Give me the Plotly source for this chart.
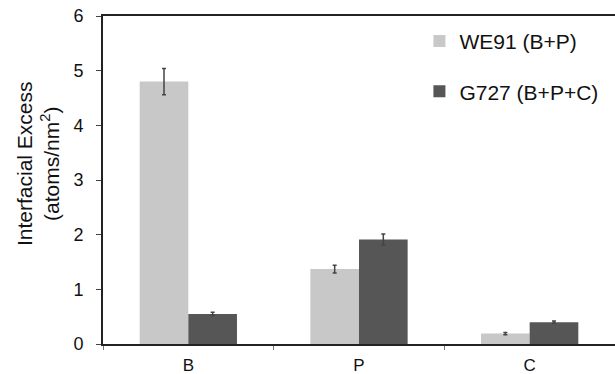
import plotly.graph_objects as go

categories = ["B", "P", "C"]
we91_values = [4.80, 1.37, 0.19]
we91_errors = [0.24, 0.07, 0.02]
g727_values = [0.55, 1.91, 0.40]
g727_errors = [0.03, 0.10, 0.02]
series_names = ["WE91 (B+P)", "G727 (B+P+C)"]

fig = go.Figure()
fig.add_trace(go.Bar(
    x=categories, y=we91_values, name=series_names[0], legendgroup="a",
    marker=dict(color="#c8c8c8", line=dict(width=0)),
    error_y=dict(type="data", array=we91_errors, color="#444444", thickness=1.5, width=2),
))
fig.add_trace(go.Bar(
    x=categories, y=g727_values, name=series_names[1], legendgroup="b",
    marker=dict(color="#565656", line=dict(width=0)),
    error_y=dict(type="data", array=g727_errors, color="#444444", thickness=1.5, width=2),
))

fig.update_layout(
    width=615, height=374,
    margin=dict(l=103, r=0, t=16, b=30),
    paper_bgcolor="white", plot_bgcolor="white",
    barmode="group", bargap=0.43, bargroupgap=0,
    font=dict(family="Liberation Sans, Arial, sans-serif", color="#111111"),
    legend=dict(x=0.618, y=0.985, xanchor="left", yanchor="top",
                font=dict(size=21), tracegroupgap=20, bgcolor="rgba(0,0,0,0)",
                itemwidth=30),
    showlegend=True,
    annotations=[dict(
        text="Interfacial Excess<br>(atoms/nm<sup>2</sup>)",
        xref="paper", yref="paper", x=-0.128, y=0.55,
        xanchor="center", yanchor="middle", textangle=-90, showarrow=False,
        font=dict(size=21, color="#111111"),
    )],
)
fig.update_xaxes(
    type="category", showline=True, linecolor="#222222", linewidth=2, mirror=True,
    ticks="outside", tickson="boundaries", ticklen=4, tickcolor="#777777",
    tickfont=dict(size=17), showgrid=False, ticklabelstandoff=5, automargin=False,
)
fig.update_yaxes(
    range=[0, 6], dtick=1, showline=True, linecolor="#222222", linewidth=2,
    ticks="outside", ticklen=5, tickcolor="#444444", tickfont=dict(size=18),
    showgrid=False, zeroline=False, ticklabelstandoff=9, automargin=False,
)

fig.write_html("out.html")
